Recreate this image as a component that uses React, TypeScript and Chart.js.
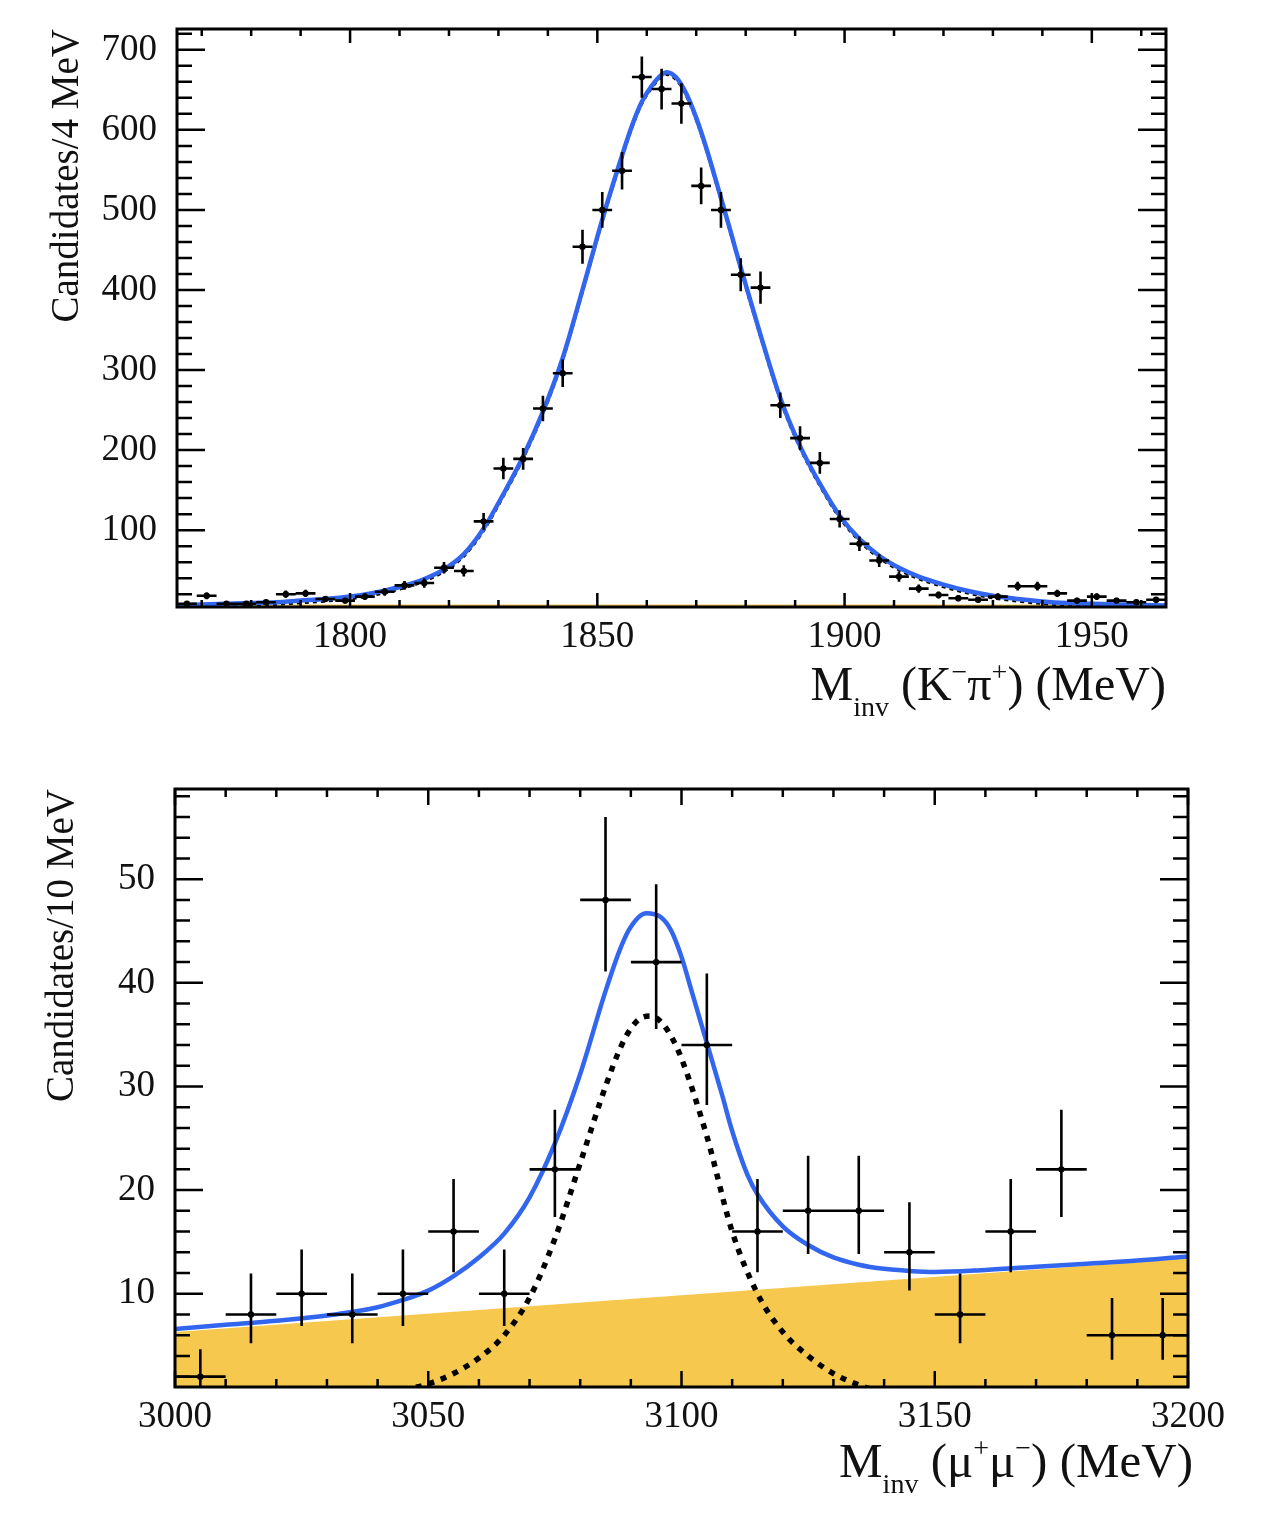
import React, { useEffect, useRef } from 'react';
import { Chart, registerables } from 'chart.js';

Chart.register(...registerables);

const FONT = '"Liberation Serif", "DejaVu Serif", "Times New Roman", serif';
const BLUE = '#3366ee';
const ORANGE = '#f6c84e';
const INK = '#111111';

// ---------- Top panel: M_inv(K- pi+) ----------
const TOP_BIN_WIDTH = 4;
const TOP_BIN_CENTERS = [
  1767, 1771, 1775, 1779, 1783, 1787, 1791, 1795, 1799, 1803,
  1807, 1811, 1815, 1819, 1823, 1827, 1831, 1835, 1839, 1843,
  1847, 1851, 1855, 1859, 1863, 1867, 1871, 1875, 1879, 1883,
  1887, 1891, 1895, 1899, 1903, 1907, 1911, 1915, 1919, 1923,
  1927, 1931, 1935, 1939, 1943, 1947, 1951, 1955, 1959, 1963,
];
const TOP_COUNTS = [
  8, 18, 8, 8, 10, 20, 21, 14, 12, 17,
  23, 31, 34, 53, 49, 111, 177, 189, 252, 296,
  454, 500, 549, 666, 651, 633, 530, 500, 419, 403,
  256, 215, 184, 114, 83, 62, 42, 27, 19, 15,
  13, 17, 30, 30, 21, 12, 17, 12, 10, 13,
];
const TOP_ERRORS = [
  2.8, 4.2, 2.8, 2.8, 3.2, 4.5, 4.6, 3.7, 3.5, 4.1,
  4.8, 5.6, 5.8, 7.3, 7.0, 10.5, 13.3, 13.7, 15.9, 17.2,
  21.3, 22.4, 23.4, 25.8, 25.5, 25.2, 23.0, 22.4, 20.5, 20.1,
  16.0, 14.7, 13.6, 10.7, 9.1, 7.9, 6.5, 5.2, 4.4, 3.9,
  3.6, 4.1, 5.5, 5.5, 4.6, 3.5, 4.1, 3.5, 3.2, 3.6,
];
const TOP_FIT_X = [
  1765, 1770, 1775, 1780, 1785, 1790, 1795, 1800, 1805, 1810,
  1815, 1819, 1823, 1827, 1831, 1835, 1839, 1843, 1847, 1851,
  1855, 1857, 1859, 1861, 1863, 1864, 1866, 1868, 1870, 1872,
  1875, 1877, 1879, 1883, 1887, 1891, 1895, 1899, 1903, 1907,
  1911, 1915, 1920, 1925, 1930, 1935, 1940, 1945, 1950, 1957,
  1965,
];
const TOP_FIT_TOTAL = [
  6, 7, 8, 9, 10, 12, 14, 17, 22, 29,
  39, 51, 70, 102, 145, 192, 248, 315, 400, 488,
  568, 605, 635, 655, 669, 672, 665, 645, 615, 578,
  515, 472, 428, 344, 265, 205, 158, 118, 89, 68,
  53, 42, 32, 24, 18, 14, 11, 9, 8, 7,
  6,
];
const TOP_FIT_SIGNAL = [
  3, 4, 5, 6, 7, 9, 11, 14, 19, 26,
  36, 48, 67, 99, 142, 189, 245, 312, 397, 485,
  565, 602, 632, 652, 666, 669, 662, 642, 612, 575,
  512, 469, 425, 341, 262, 202, 155, 115, 86, 65,
  50, 39, 29, 21, 15, 11, 8, 6, 5, 4,
  3,
];
const TOP_BKG_X = [1765, 1965];
const TOP_BKG = [7, 7];
const TOP_X_TICKS = [1800, 1850, 1900, 1950];
const TOP_Y_TICKS = [100, 200, 300, 400, 500, 600, 700];

// ---------- Bottom panel: M_inv(mu+ mu-) ----------
const BOT_BIN_WIDTH = 10;
const BOT_BIN_CENTERS = [
  3005, 3015, 3025, 3035, 3045, 3055, 3065, 3075, 3085, 3095,
  3105, 3115, 3125, 3135, 3145, 3155, 3165, 3175, 3185, 3195,
];
const BOT_COUNTS = [2, 8, 10, 8, 10, 16, 10, 22, 48, 42, 34, 16, 18, 18, 14, 8, 16, 22, 6, 6];
const BOT_ERR_LO = [1.29, 2.77, 3.11, 2.77, 3.11, 3.92, 3.11, 4.6, 6.9, 6.45, 5.8, 3.92, 4.16, 4.16, 3.68, 2.77, 3.92, 4.6, 2.38, 2.38];
const BOT_ERR_HI = [2.64, 3.94, 4.27, 3.94, 4.27, 5.08, 4.27, 5.76, 7.99, 7.5, 6.9, 5.08, 5.32, 5.32, 4.83, 3.94, 5.08, 5.76, 3.58, 3.58];
const BOT_FIT_X = [
  3000, 3010, 3020, 3030, 3040, 3045, 3050, 3055, 3060, 3065,
  3070, 3075, 3080, 3085, 3088, 3090, 3093, 3096, 3098, 3100,
  3102, 3105, 3108, 3110, 3113, 3115, 3120, 3125, 3130, 3135,
  3140, 3145, 3150, 3160, 3170, 3180, 3190, 3200,
];
const BOT_FIT_TOTAL = [
  6.6, 7.0, 7.4, 7.9, 8.7, 9.4, 10.3, 11.7, 13.5, 15.8,
  19.3, 24.5, 31.2, 39.2, 43.4, 45.4, 46.7, 46.3, 45.0, 42.5,
  39.2, 34.2, 29.2, 25.7, 21.5, 19.6, 16.5, 14.7, 13.5, 12.8,
  12.4, 12.2, 12.1, 12.3, 12.6, 12.9, 13.2, 13.6,
];
const BOT_SIG_X = [
  3040, 3045, 3050, 3055, 3060, 3065, 3070, 3075, 3080, 3085,
  3088, 3090, 3092, 3094, 3096, 3098, 3100, 3105, 3110, 3115,
  3120, 3125, 3130, 3135, 3140, 3145,
];
const BOT_FIT_SIGNAL = [
  0.3, 0.7, 1.3, 2.3, 3.8, 6.0, 9.6, 15.3, 22.6, 30.0,
  33.8, 35.6, 36.6, 36.8, 36.2, 34.8, 32.7, 25.2, 16.0, 10.0,
  6.3, 4.0, 2.3, 1.2, 0.5, 0.2,
];
const BOT_BKG_X = [3000, 3200];
const BOT_BKG = [6.3, 13.4];
const BOT_X_TICKS = [3000, 3050, 3100, 3150, 3200];
const BOT_Y_TICKS = [10, 20, 30, 40, 50];

// ---------- helpers & plugins ----------
const pts = (xs: number[], ys: number[]) => xs.map((x, i) => ({ x, y: ys[i] }));

const errorBarPlugin = {
  id: 'errorBars',
  afterDatasetsDraw(chart: any, _args: any, opts: any) {
    const { ctx, chartArea: a } = chart;
    const xs = chart.scales.x;
    const ys = chart.scales.y;
    chart.data.datasets.forEach((ds: any) => {
      if (!ds.errLo) return;
      ctx.save();
      ctx.beginPath();
      ctx.rect(a.left, a.top, a.right - a.left, a.bottom - a.top);
      ctx.clip();
      ctx.strokeStyle = '#000';
      ctx.lineWidth = opts.width;
      ctx.beginPath();
      ds.data.forEach((p: any, i: number) => {
        const px = xs.getPixelForValue(p.x);
        const py = ys.getPixelForValue(p.y);
        ctx.moveTo(xs.getPixelForValue(p.x - ds.binWidth / 2), py);
        ctx.lineTo(xs.getPixelForValue(p.x + ds.binWidth / 2), py);
        ctx.moveTo(px, ys.getPixelForValue(p.y - ds.errLo[i]));
        ctx.lineTo(px, ys.getPixelForValue(p.y + ds.errHi[i]));
      });
      ctx.stroke();
      ctx.restore();
    });
  },
};

const rootFramePlugin = {
  id: 'rootFrame',
  afterDatasetsDraw(chart: any, _args: any, o: any) {
    const { ctx, chartArea: a } = chart;
    const xs = chart.scales.x;
    const ys = chart.scales.y;
    ctx.save();
    ctx.strokeStyle = '#000';
    ctx.lineWidth = o.tickWidth;
    ctx.beginPath();
    const k0x = Math.ceil(xs.min / o.xMinor - 1e-9);
    const k1x = Math.floor(xs.max / o.xMinor + 1e-9);
    for (let k = k0x; k <= k1x; k++) {
      const v = k * o.xMinor;
      const major = Math.abs(v / o.xMajor - Math.round(v / o.xMajor)) < 1e-6;
      const len = major ? o.xMajorLen : o.xMinorLen;
      const p = xs.getPixelForValue(v);
      ctx.moveTo(p, a.bottom);
      ctx.lineTo(p, a.bottom - len);
      ctx.moveTo(p, a.top);
      ctx.lineTo(p, a.top + len);
    }
    const k0y = Math.ceil(ys.min / o.yMinor - 1e-9);
    const k1y = Math.floor(ys.max / o.yMinor + 1e-9);
    for (let k = k0y; k <= k1y; k++) {
      const v = k * o.yMinor;
      const major = Math.abs(v / o.yMajor - Math.round(v / o.yMajor)) < 1e-6;
      const len = major ? o.yMajorLen : o.yMinorLen;
      const p = ys.getPixelForValue(v);
      ctx.moveTo(a.left, p);
      ctx.lineTo(a.left + len, p);
      ctx.moveTo(a.right, p);
      ctx.lineTo(a.right - len, p);
    }
    ctx.stroke();
    ctx.lineWidth = o.frameWidth;
    ctx.strokeRect(a.left, a.top, a.right - a.left, a.bottom - a.top);
    ctx.restore();
  },
};

const xTitlePlugin = {
  id: 'xTitle',
  afterDraw(chart: any, _args: any, o: any) {
    const { ctx, chartArea: a } = chart;
    const size = o.size;
    const small = Math.round(size * 0.58);
    const fontFor = (k: string) => `${k === 'n' ? size : small}px ${FONT}`;
    ctx.save();
    ctx.fillStyle = INK;
    ctx.textBaseline = 'alphabetic';
    ctx.textAlign = 'left';
    const widths = o.parts.map(([t, k]: [string, string]) => {
      ctx.font = fontFor(k);
      return ctx.measureText(t).width;
    });
    const total = widths.reduce((s: number, w: number) => s + w, 0);
    let x = a.right + o.dx - total;
    const base = a.bottom + o.dy;
    o.parts.forEach(([t, k]: [string, string], i: number) => {
      ctx.font = fontFor(k);
      const off = k === 'sub' ? size * 0.33 : k === 'sup' ? -size * 0.4 : 0;
      ctx.fillText(t, x, base + off);
      x += widths[i];
    });
    ctx.restore();
  },
};

const tickFont = { family: FONT, size: 37 };

function makeConfig(p: any): any {
  return {
    type: 'scatter',
    data: {
      datasets: [
        {
          label: 'Data',
          data: pts(p.centers, p.counts),
          errLo: p.errLo,
          errHi: p.errHi,
          binWidth: p.binWidth,
          pointRadius: 3.2,
          pointBackgroundColor: '#000',
          pointBorderWidth: 0,
          order: 0,
        },
        {
          label: 'Total fit',
          type: 'line',
          data: pts(p.fitX, p.fitTotal),
          borderColor: BLUE,
          borderWidth: 4.5,
          pointRadius: 0,
          cubicInterpolationMode: 'monotone',
          fill: false,
          clip: 0,
          order: 1,
        },
        {
          label: 'Signal',
          type: 'line',
          data: pts(p.sigX, p.fitSignal),
          borderColor: '#000',
          borderWidth: p.sigWidth,
          borderDash: p.sigDash,
          pointRadius: 0,
          cubicInterpolationMode: 'monotone',
          fill: false,
          clip: 0,
          order: 2,
        },
        {
          label: 'Background',
          type: 'line',
          data: pts(p.bkgX, p.bkg),
          borderWidth: 0,
          borderColor: ORANGE,
          backgroundColor: ORANGE,
          pointRadius: 0,
          fill: 'start',
          clip: 0,
          order: 3,
        },
      ],
    },
    options: {
      animation: false,
      responsive: false,
      events: [],
      layout: { padding: { left: 0, top: p.padTop, right: p.padRight, bottom: 0 } },
      plugins: {
        legend: { display: false },
        tooltip: { enabled: false },
        errorBars: { width: 2.6 },
        rootFrame: p.frame,
        xTitle: p.xTitle,
      },
      scales: {
        x: {
          type: 'linear',
          min: p.xMin,
          max: p.xMax,
          afterFit: (s: any) => { s.height = p.xAxisHeight; },
          afterBuildTicks: (s: any) => { s.ticks = p.xTicks.map((v: number) => ({ value: v })); },
          grid: { display: false, drawTicks: true, tickLength: 8 },
          border: { display: false },
          ticks: {
            font: tickFont,
            color: INK,
            padding: 0,
            maxRotation: 0,
            minRotation: 0,
            autoSkip: false,
            callback: (v: any) => String(v),
          },
        },
        y: {
          type: 'linear',
          min: p.yMin,
          max: p.yMax,
          afterFit: (s: any) => { s.width = p.yAxisWidth; },
          afterBuildTicks: (s: any) => { s.ticks = p.yTicks.map((v: number) => ({ value: v })); },
          grid: { display: false, drawTicks: true, tickLength: 20 },
          border: { display: false },
          title: {
            display: true,
            text: p.yTitle,
            align: 'end',
            color: INK,
            font: { family: FONT, size: 39 },
            padding: { top: p.yTitlePad, bottom: 0 },
          },
          ticks: {
            font: tickFont,
            color: INK,
            padding: 0,
            autoSkip: false,
            callback: (v: any) => String(v),
          },
        },
      },
    },
    plugins: [errorBarPlugin, rootFramePlugin, xTitlePlugin],
  };
}

const TOP_PARAMS = {
  centers: TOP_BIN_CENTERS, counts: TOP_COUNTS, errLo: TOP_ERRORS, errHi: TOP_ERRORS, binWidth: TOP_BIN_WIDTH,
  fitX: TOP_FIT_X, fitTotal: TOP_FIT_TOTAL, sigX: TOP_FIT_X, fitSignal: TOP_FIT_SIGNAL,
  sigWidth: 2.5, sigDash: [4, 4],
  bkgX: TOP_BKG_X, bkg: TOP_BKG,
  xMin: 1765, xMax: 1965, yMin: 4, yMax: 726,
  xTicks: TOP_X_TICKS, yTicks: TOP_Y_TICKS,
  padTop: 29, padRight: 106, xAxisHeight: 133, yAxisWidth: 177, yTitlePad: 44,
  yTitle: 'Candidates/4 MeV',
  frame: { tickWidth: 2.5, frameWidth: 3, xMinor: 10, xMajor: 50, yMinor: 20, yMajor: 100, xMajorLen: 14, xMinorLen: 7, yMajorLen: 28, yMinorLen: 15 },
  xTitle: { size: 48, dx: 0, dy: 93, parts: [['M', 'n'], ['inv', 'sub'], [' (K', 'n'], ['\u2212', 'sup'], ['\u03C0', 'n'], ['+', 'sup'], [') (MeV)', 'n']] },
};

const BOT_PARAMS = {
  centers: BOT_BIN_CENTERS, counts: BOT_COUNTS, errLo: BOT_ERR_LO, errHi: BOT_ERR_HI, binWidth: BOT_BIN_WIDTH,
  fitX: BOT_FIT_X, fitTotal: BOT_FIT_TOTAL, sigX: BOT_SIG_X, fitSignal: BOT_FIT_SIGNAL,
  sigWidth: 5.5, sigDash: [6, 7],
  bkgX: BOT_BKG_X, bkg: BOT_BKG,
  xMin: 3000, xMax: 3200, yMin: 1, yMax: 58.7,
  xTicks: BOT_X_TICKS, yTicks: BOT_Y_TICKS,
  padTop: 29, padRight: 84, xAxisHeight: 141, yAxisWidth: 175, yTitlePad: 39,
  yTitle: 'Candidates/10 MeV',
  frame: { tickWidth: 2.5, frameWidth: 3, xMinor: 10, xMajor: 50, yMinor: 2, yMajor: 10, xMajorLen: 16, xMinorLen: 8, yMajorLen: 28, yMinorLen: 15 },
  xTitle: { size: 49, dx: 5, dy: 90, parts: [['M', 'n'], ['inv', 'sub'], [' (\u03BC', 'n'], ['+', 'sup'], ['\u03BC', 'n'], ['\u2212', 'sup'], [') (MeV)', 'n']] },
};

function Panel({ params, top, height }: { params: any; top: number; height: number }) {
  const ref = useRef<HTMLCanvasElement>(null);
  useEffect(() => {
    if (!ref.current) return;
    const chart = new Chart(ref.current, makeConfig(params));
    return () => chart.destroy();
  }, [params]);
  return (
    <canvas
      ref={ref}
      width={1272}
      height={height}
      style={{ position: 'absolute', left: 0, top, width: 1272, height, display: 'block' }}
    />
  );
}

export default function App() {
  return (
    <div style={{ position: 'absolute', left: 0, top: 0, width: 1272, height: 1528, background: '#fff' }}>
      <Panel params={TOP_PARAMS} top={0} height={740} />
      <Panel params={BOT_PARAMS} top={760} height={768} />
    </div>
  );
}
